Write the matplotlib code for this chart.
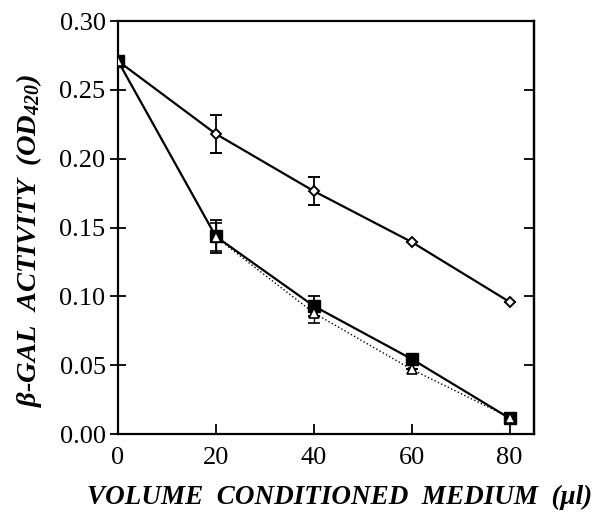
import numpy as np
import matplotlib
matplotlib.use("Agg")
import matplotlib.pyplot as plt

plt.rcParams["font.family"] = ["Liberation Serif", "DejaVu Serif"]
plt.rcParams["mathtext.fontset"] = "custom"
plt.rcParams["mathtext.rm"] = "Liberation Serif:bold:italic"
plt.rcParams["mathtext.it"] = "Liberation Serif:bold:italic"
plt.rcParams["mathtext.bf"] = "Liberation Serif:bold:italic"

# volume of conditioned medium (ul)
volume = [0, 20, 40, 60, 80]

# open diamonds
diam_y = [0.271, 0.218, 0.1765, 0.1395, 0.096]
diam_err = [0.0, 0.014, 0.010, 0.0, 0.0]

# filled squares
sq_y = [0.271, 0.1435, 0.093, 0.0545, 0.0115]
sq_err = [0.0, 0.012, 0.007, 0.0, 0.0]

# open triangles (dotted)
tri_y = [0.271, 0.143, 0.088, 0.047, 0.012]
tri_err = [0.0, 0.010, 0.007, 0.0, 0.0]

yticks = [0.00, 0.05, 0.10, 0.15, 0.20, 0.25, 0.30]
xticks = [0, 20, 40, 60, 80]

fig = plt.figure(figsize=(5.93, 5.14), dpi=100)
ax = fig.add_axes([0.199, 0.1556, 0.7015, 0.8034])

ax.errorbar(volume, diam_y, yerr=diam_err, color="black", lw=1.6,
            marker="D", ms=5.5, mfc="white", mec="black", mew=1.4,
            capsize=4, elinewidth=1.3, capthick=1.3, zorder=3)
ax.errorbar(volume, sq_y, yerr=sq_err, color="black", lw=1.6,
            marker="s", ms=8, mfc="black", mec="black",
            capsize=4, elinewidth=1.3, capthick=1.3, zorder=3)
ax.errorbar(volume, tri_y, yerr=tri_err, color="black", lw=1.0, ls=":",
            marker="^", ms=6.5, mfc="white", mec="black", mew=1.2,
            capsize=4, elinewidth=1.0, capthick=1.0, zorder=4)

ax.set_xlim(0, 85)
ax.set_ylim(0, 0.30)
ax.set_xticks(xticks)
ax.set_yticks(yticks)
ax.yaxis.set_major_formatter(matplotlib.ticker.FormatStrFormatter("%.2f"))
ax.tick_params(axis="y", direction="inout", length=12, width=1.3,
               labelsize=19, pad=3)
ax.tick_params(axis="x", direction="in", length=7, width=1.3, labelsize=19, pad=9)
for s in ax.spines.values():
    s.set_linewidth(1.6)

# right side: inward ticks only, no labels
sec = ax.secondary_yaxis("right")
sec.set_yticks(yticks)
sec.tick_params(direction="in", length=7, width=1.3, labelright=False)
sec.spines["right"].set_linewidth(1.6)

ax.set_xlabel("VOLUME  CONDITIONED  MEDIUM  (\u03bcl)", fontsize=19.5,
              fontweight="bold", fontstyle="italic")
ax.xaxis.set_label_coords((340 - 118) / 416, -(497 - 434) / 413, transform=ax.transAxes)
ax.xaxis.label.set_va("center")
ax.set_ylabel("$\\beta$-GAL  ACTIVITY  (OD$_{420}$)", fontsize=20.5,
              fontweight="bold", fontstyle="italic")
ax.yaxis.set_label_coords(-(118 - 29) / 416, (434 - 240) / 413, transform=ax.transAxes)
ax.yaxis.label.set_va("center")

fig.savefig("out.png", dpi=100)
